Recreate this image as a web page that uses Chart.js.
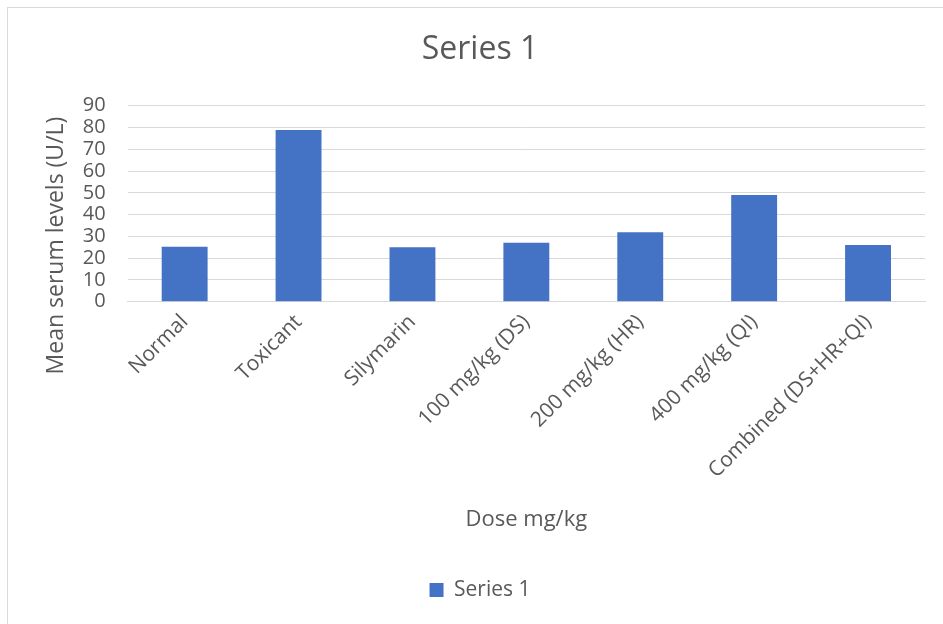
<!DOCTYPE html>
<html>
<head>
<meta charset="utf-8">
<script src="https://cdn.jsdelivr.net/npm/chart.js@4/dist/chart.umd.min.js"></script>
<style>
    html, body { margin: 0; padding: 0; background: #ffffff; }
    #wrap { position: relative; width: 943px; height: 624px; overflow: hidden; }
    #frame { position: absolute; left: 7px; top: 7px; width: 1000px; height: 700px; border: 1px solid #d9d9d9; box-sizing: border-box; }
    #chart { position: absolute; left: 0; top: 0; }
</style>
</head>
<body>
<div id="wrap">
    <div id="frame"></div>
    <canvas id="chart" width="943" height="624"></canvas>
</div>
<script>
const categories = ['Normal', 'Toxicant', 'Silymarin', '100 mg/kg (DS)', '200 mg/kg (HR)', '400 mg/kg (QI)', 'Combined (DS+HR+QI)'];
const seriesValues = [25.2, 78.8, 25.0, 27.1, 31.9, 49.0, 26.0];
const yTicks = [0, 10, 20, 30, 40, 50, 60, 70, 80, 90];

const textColor = '#595959';
const fontFamily = '"Open Sans", "DejaVu Sans", sans-serif';

// Excel puts the value axis title a bit lower than the plot centre; pad the end of the text
const yTitle = 'Mean serum levels (U/L)' + '\u00A0'.repeat(14);

const ctx = document.getElementById('chart').getContext('2d');
new Chart(ctx, {
    type: 'bar',
    data: {
        labels: categories,
        datasets: [{
            label: 'Series 1',
            data: seriesValues,
            backgroundColor: '#4472c4',
            borderWidth: 0,
            barPercentage: 0.403,
            categoryPercentage: 1.0
        }]
    },
    options: {
        responsive: false,
        animation: false,
        devicePixelRatio: 1,
        layout: {
            padding: { left: 35, right: 18, top: 0, bottom: 13.5 }
        },
        plugins: {
            title: {
                display: true,
                text: 'Series 1',
                color: textColor,
                font: { family: fontFamily, size: 32, weight: 'normal' },
                padding: { top: 31, bottom: 36.3 }
            },
            legend: {
                display: true,
                position: 'bottom',
                labels: {
                    color: textColor,
                    font: { family: fontFamily, size: 21 },
                    boxWidth: 14,
                    boxHeight: 14,
                    padding: 10
                }
            },
            tooltip: { enabled: false }
        },
        scales: {
            x: {
                grid: { display: false, drawTicks: false },
                border: { display: true, color: '#d9d9d9', width: 1 },
                ticks: {
                    color: textColor,
                    font: { family: fontFamily, size: 21 },
                    minRotation: 45,
                    maxRotation: 45,
                    padding: 8,
                    autoSkip: false
                },
                title: {
                    display: true,
                    text: 'Dose mg/kg',
                    color: textColor,
                    font: { family: fontFamily, size: 22 },
                    padding: { top: 4, bottom: 37 }
                },
                afterFit: function (scale) {
                    scale.height = 267.8; // keep plot bottom where the picture has it
                }
            },
            y: {
                min: 0,
                max: 90,
                afterBuildTicks: function (scale) {
                    scale.ticks = yTicks.map(v => ({ value: v }));
                },
                grid: { color: '#d9d9d9', lineWidth: 1, drawTicks: false },
                border: { display: false },
                ticks: {
                    color: textColor,
                    font: { family: fontFamily, size: 20 },
                    padding: 22,
                    autoSkip: false
                },
                title: {
                    display: true,
                    text: yTitle,
                    color: textColor,
                    font: { family: fontFamily, size: 23 },
                    padding: { top: 8, bottom: 4 }
                },
                afterFit: function (scale) {
                    scale.width = 92.7;
                }
            }
        }
    }
});
</script>
</body>
</html>
